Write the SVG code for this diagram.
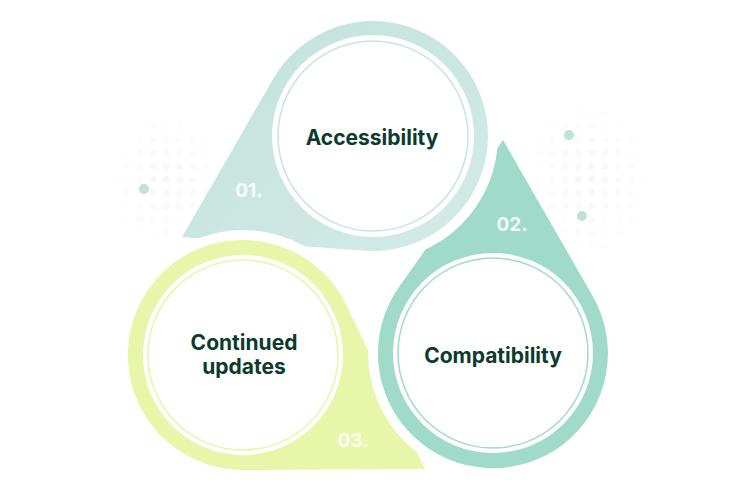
<svg xmlns="http://www.w3.org/2000/svg" width="740" height="493" viewBox="0 0 740 493">
  <style>
    .label { font-family: "Inter", "Liberation Sans", sans-serif; font-weight: 700; font-size: 21px; fill: #0c3a2d; text-anchor: middle; }
    .num { font-family: "Inter", "Liberation Sans", sans-serif; font-weight: 700; font-size: 19px; fill: #ffffff; fill-opacity: 0.9; text-anchor: middle; }
    .inner { fill: #ffffff; }
    .dot { fill: #bfe2da; }
  </style>
  <defs>
    <pattern id="faint" patternUnits="userSpaceOnUse" x="0" y="0" width="13.3" height="13.3">
      <circle cx="6.6" cy="6.6" r="3.4" fill="#f5f6f6"/>
    </pattern>
    <radialGradient id="fade">
      <stop offset="0" stop-color="#fff"/>
      <stop offset="1" stop-color="#000"/>
    </radialGradient>
    <mask id="mFade" maskUnits="userSpaceOnUse" x="0" y="0" width="740" height="493">
      <ellipse cx="166" cy="180" rx="60" ry="72" fill="url(#fade)"/>
      <ellipse cx="587" cy="180" rx="66" ry="85" fill="url(#fade)"/>
    </mask>
    <linearGradient id="gA" x1="0" y1="0" x2="1" y2="1">
      <stop offset="0" stop-color="#c2e2dc"/>
      <stop offset="1" stop-color="#d3ebe7"/>
    </linearGradient>
    <mask id="mA" maskUnits="userSpaceOnUse" x="0" y="0" width="740" height="493">
      <rect width="740" height="493" fill="#fff"/>
      <circle cx="243" cy="355" r="125" fill="#000"/>
    </mask>
    <mask id="mB" maskUnits="userSpaceOnUse" x="0" y="0" width="740" height="493">
      <rect width="740" height="493" fill="#fff"/>
      <circle cx="373" cy="136" r="125" fill="#000"/>
    </mask>
    <mask id="mC" maskUnits="userSpaceOnUse" x="0" y="0" width="740" height="493">
      <rect width="740" height="493" fill="#fff"/>
      <circle cx="493" cy="353" r="125" fill="#000"/>
    </mask>
  </defs>
  <rect width="740" height="493" fill="#ffffff"/>

  <g id="decor">
    <rect x="100" y="100" width="560" height="170" fill="url(#faint)" mask="url(#mFade)"/>
    <circle class="dot" cx="144" cy="189" r="5"/>
    <circle class="dot" cx="569" cy="135" r="5"/>
    <circle class="dot" cx="582" cy="216" r="5"/>
  </g>

  <g id="node-accessibility">
    <path d="M182,237 L273.4,78.5 A115,115 0 1 1 364.4,250.7 Z" fill="url(#gA)" mask="url(#mA)"/>
    <circle class="inner" cx="373" cy="136" r="101"/>
    <circle cx="373" cy="136" r="95" fill="#fff" stroke="#c6e4df" stroke-width="1.5"/>
    <text class="num" x="249" y="197">01.</text>
    <text class="label" x="372" y="145">Accessibility</text>
  </g>

  <g id="node-compatibility">
    <path d="M503,140 L592.5,295.7 A115,115 0 1 1 399.3,286.5 Z" fill="#a0dbca" mask="url(#mB)"/>
    <circle class="inner" cx="493" cy="353" r="100"/>
    <circle cx="493" cy="353" r="95" fill="#fff" stroke="#a0dbca" stroke-width="1.5"/>
    <text class="num" x="512" y="231">02.</text>
    <text class="label" x="493" y="363">Compatibility</text>
  </g>

  <g id="node-updates">
    <path d="M425,469 L346.6,305.4 A115,115 0 1 0 243.6,470 Z" fill="#e7f6a8" mask="url(#mC)"/>
    <circle class="inner" cx="243" cy="355" r="100"/>
    <circle cx="243" cy="355" r="95" fill="#fff" stroke="#e7f6a8" stroke-width="1.5"/>
    <text class="num" x="353" y="447">03.</text>
    <text class="label" x="244" y="350">Continued</text>
    <text class="label" x="244" y="374">updates</text>
  </g>

  <g id="connectors"></g>
</svg>
